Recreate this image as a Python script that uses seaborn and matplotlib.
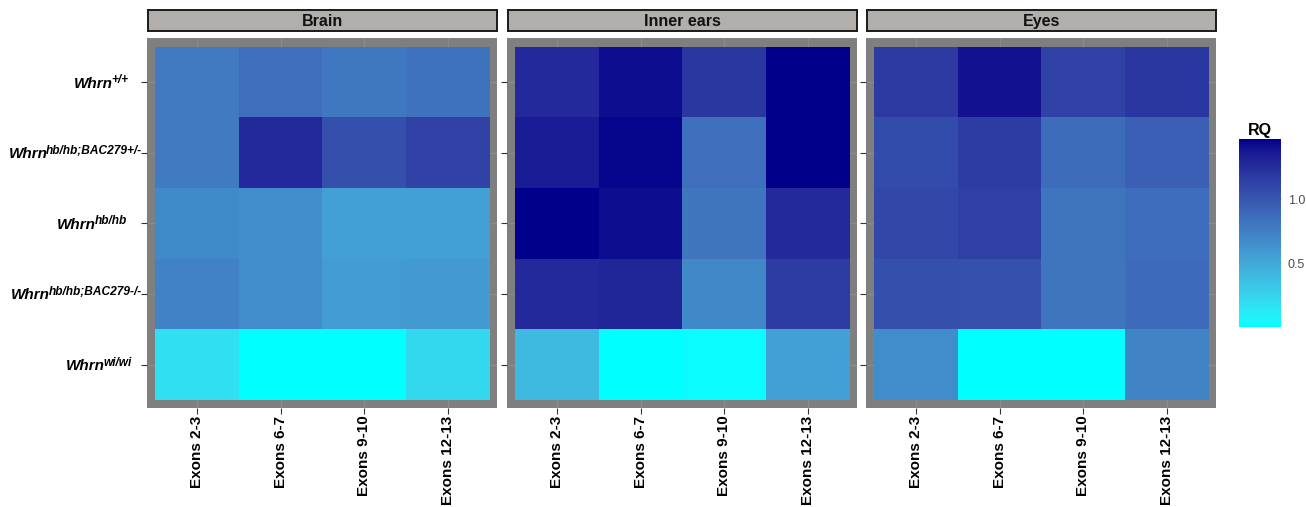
import numpy as np
import pandas as pd
import matplotlib
matplotlib.use("Agg")
import matplotlib.pyplot as plt
import seaborn as sns
from matplotlib.colors import ListedColormap, Normalize
from matplotlib.cm import ScalarMappable
from matplotlib.transforms import offset_copy

# --- datos (RQ) ---
tissues = ["Brain", "Inner ears", "Eyes"]
exons = ["Exons 2-3", "Exons 6-7", "Exons 9-10", "Exons 12-13"]
genotype_sup = ["+/+", "hb/hb;BAC279+/-", "hb/hb", "hb/hb;BAC279-/-", "wi/wi"]

brain_rq = [[0.78, 0.85, 0.80, 0.83],
            [0.78, 1.28, 1.05, 1.13],
            [0.68, 0.66, 0.55, 0.55],
            [0.74, 0.67, 0.58, 0.59],
            [0.18, 0.00, 0.00, 0.22]]
ears_rq = [[1.28, 1.42, 1.20, 1.47],
           [1.35, 1.45, 0.85, 1.47],
           [1.47, 1.42, 0.82, 1.28],
           [1.28, 1.30, 0.70, 1.17],
           [0.40, 0.00, 0.02, 0.55]]
eyes_rq = [[1.18, 1.40, 1.13, 1.20],
           [1.07, 1.17, 0.87, 0.95],
           [1.10, 1.14, 0.82, 0.86],
           [1.05, 1.04, 0.82, 0.88],
           [0.67, 0.00, 0.00, 0.72]]


# --- escala tipo ggplot: cyan -> darkblue interpolado en Lab ---
def srgb_to_lab(rgb):
    c = np.asarray(rgb, float)
    lin = np.where(c <= 0.04045, c / 12.92, ((c + 0.055) / 1.055) ** 2.4)
    m = np.array([[0.4124, 0.3576, 0.1805],
                  [0.2126, 0.7152, 0.0722],
                  [0.0193, 0.1192, 0.9505]])
    xyz = m @ lin / np.array([0.95047, 1.0, 1.08883])
    f = np.where(xyz > 0.008856, np.cbrt(xyz), 7.787 * xyz + 16 / 116)
    return np.array([116 * f[1] - 16, 500 * (f[0] - f[1]), 200 * (f[1] - f[2])])


def lab_to_srgb(lab):
    L, a, b = lab
    fy = (L + 16) / 116
    fx = fy + a / 500
    fz = fy - b / 200
    f = np.array([fx, fy, fz])
    xyz = np.where(f ** 3 > 0.008856, f ** 3, (f - 16 / 116) / 7.787)
    xyz = xyz * np.array([0.95047, 1.0, 1.08883])
    m = np.array([[3.2406, -1.5372, -0.4986],
                  [-0.9689, 1.8758, 0.0415],
                  [0.0557, -0.2040, 1.0570]])
    lin = np.clip(m @ xyz, 0, 1)
    c = np.where(lin <= 0.0031308, 12.92 * lin, 1.055 * lin ** (1 / 2.4) - 0.055)
    return np.clip(c, 0, 1)


lo = srgb_to_lab(matplotlib.colors.to_rgb("#00FFFF"))
hi = srgb_to_lab(matplotlib.colors.to_rgb("#00008B"))
cmap = ListedColormap([lab_to_srgb(lo + (hi - lo) * t) for t in np.linspace(0, 1, 256)])

all_vals = np.array([brain_rq, ears_rq, eyes_rq])
vmin, vmax = all_vals.min(), all_vals.max()

# --- estilo ---
sns.set_style("white")
plt.rcParams["font.family"] = ["Liberation Sans", "DejaVu Sans"]
plt.rcParams["text.color"] = "black"

W, H = 1306, 507
fig = plt.figure(figsize=(W / 100, H / 100), dpi=100)


def fbox(x0, y0, x1, y1):
    return [x0 / W, (H - y1) / H, (x1 - x0) / W, (y1 - y0) / H]


panel_x = [147, 507, 866]
panel_w = 350
label_pad_px = [19, 5, 20, 5, 15]

for k, (tissue, vals) in enumerate(zip(tissues, [brain_rq, ears_rq, eyes_rq])):
    x0 = panel_x[k]
    ax = fig.add_axes(fbox(x0, 38, x0 + panel_w, 408))
    df = pd.DataFrame(vals, index=genotype_sup, columns=exons)
    sns.heatmap(df, ax=ax, cmap=cmap, vmin=vmin, vmax=vmax, cbar=False,
                xticklabels=True, yticklabels=True)
    ax.set_facecolor("#7f7f7f")
    ax.set_xlim(-0.095, 4.085)
    ax.set_ylim(5.115, -0.125)
    ax.set_axisbelow(True)
    ax.grid(True, color="#8b8b8b", linewidth=1.0)
    for s in ax.spines.values():
        s.set_visible(False)
    ax.set_xlabel("")
    ax.set_ylabel("")
    ax.tick_params(axis="x", bottom=True, length=4, width=0.8, color="#333333",
                   labelsize=11, pad=1.5)
    ax.tick_params(axis="y", left=True, length=4, width=0.8, color="#333333")
    plt.setp(ax.get_xticklabels(), rotation=90, fontweight="bold", color="black")
    ax.set_yticklabels([])

    # tira del facet
    sax = fig.add_axes(fbox(x0 + 1, 10, x0 + panel_w, 31))
    sax.set_facecolor("#b2aeac")
    sax.set_xticks([])
    sax.set_yticks([])
    for s in sax.spines.values():
        s.set_color("#1a1a1a")
        s.set_linewidth(1.4)
    sax.text(0.5, 0.45, tissue, ha="center", va="center", fontsize=11.5,
             fontweight="bold", color="#111111", transform=sax.transAxes)

    if k == 0:
        renderer = fig.canvas.get_renderer()
        trans = ax.get_yaxis_transform()
        for i, sup in enumerate(genotype_sup):
            pad = label_pad_px[i]
            t_sup = ax.text(0, i + 0.5, sup, ha="right", va="baseline",
                            fontsize=8.6, fontweight="bold", style="italic",
                            color="black",
                            transform=offset_copy(trans, fig=fig, x=-pad, y=-1,
                                                  units="dots"))
            w = t_sup.get_window_extent(renderer).width
            ax.text(0, i + 0.5, "Whrn", ha="right", va="baseline",
                    fontsize=11, fontweight="bold", style="italic", color="black",
                    transform=offset_copy(trans, fig=fig, x=-pad - w + 1.5, y=-5.5,
                                          units="dots"))

# --- barra de color ---
cax = fig.add_axes(fbox(1239, 139, 1281, 327))
cb = fig.colorbar(ScalarMappable(norm=Normalize(vmin, vmax), cmap=cmap), cax=cax)
cb.outline.set_visible(False)
cb.set_ticks([0.5, 1.0])
cb.set_ticklabels(["0.5", "1.0"])
cax.tick_params(axis="y", direction="in", left=True, right=True, length=8,
                width=0.8, color="#b9bfe0", labelsize=9, labelcolor="#4d4d4d",
                pad=5)
cax.set_title("RQ", fontsize=11.5, fontweight="bold", pad=3)

fig.savefig("out.png", dpi=100)
